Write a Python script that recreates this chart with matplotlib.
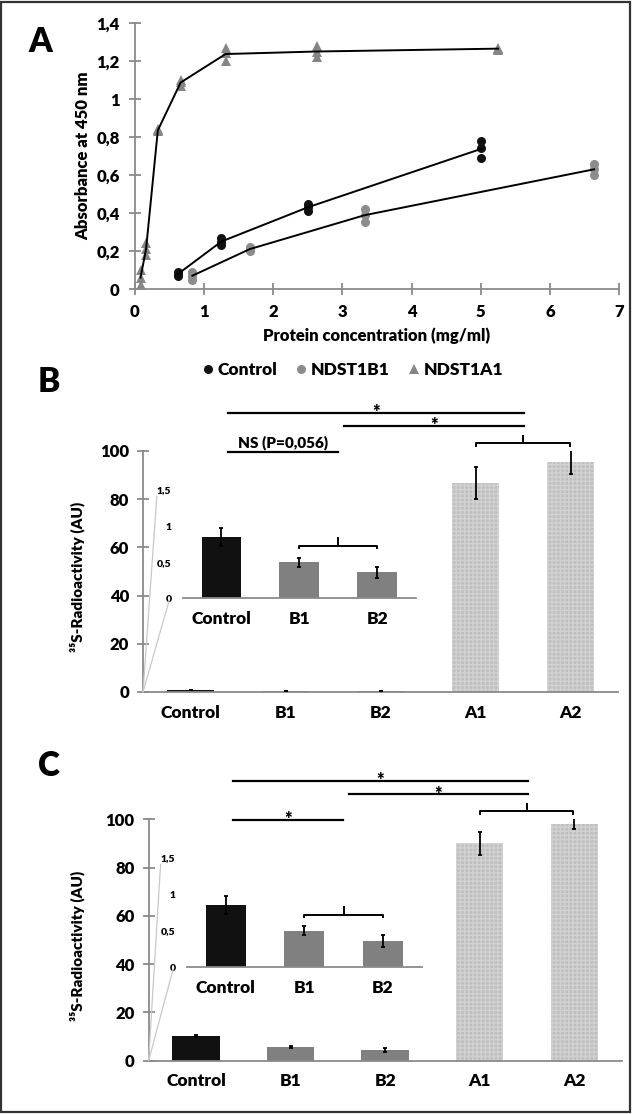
import matplotlib
matplotlib.use("Agg")
import matplotlib.pyplot as plt
import numpy as np
from matplotlib.lines import Line2D
from matplotlib.patches import ConnectionPatch, Rectangle
from matplotlib.ticker import FuncFormatter

plt.rcParams['font.family'] = ['Lato', 'DejaVu Sans']
plt.rcParams['font.weight'] = 'heavy'
plt.rcParams['hatch.linewidth'] = 1.0
WT = 'heavy'

# ---------------- Data ----------------
# Panel A: protein concentration (mg/ml) vs absorbance, 3 replicates each
ctrl_conc = [0.625, 1.25, 2.5, 5.0]
ctrl_abs = [[0.07, 0.08, 0.09], [0.23, 0.25, 0.27], [0.41, 0.43, 0.45], [0.69, 0.74, 0.78]]
b1_conc = [0.83, 1.66, 3.32, 6.64]
b1_abs = [[0.05, 0.07, 0.09], [0.20, 0.21, 0.22], [0.355, 0.39, 0.42], [0.60, 0.63, 0.66]]
a1_conc = [0.08, 0.16, 0.33, 0.66, 1.31, 2.63, 5.25]
a1_abs = [[0.02, 0.06, 0.10], [0.18, 0.21, 0.24], [0.83, 0.835, 0.84], [1.07, 1.09, 1.10],
          [1.20, 1.24, 1.27], [1.22, 1.25, 1.28], [1.26, 1.265, 1.27]]

# Panels B and C: radioactivity
categories = ['Control', 'B1', 'B2', 'A1', 'A2']
b_means = [0.85, 0.50, 0.36, 86.6, 95.5]
b_errs = [0.12, 0.06, 0.08, 6.7, 5.2]
c_means = [10.2, 5.7, 4.4, 90.0, 98.2]
c_errs = [0.3, 0.4, 0.8, 4.6, 2.2]

inset_categories = ['Control', 'B1', 'B2']
inset_means = [0.85, 0.50, 0.36]
inset_errs = [0.12, 0.06, 0.08]

W, H = 633, 1114
fig = plt.figure(figsize=(W / 100, H / 100), dpi=100)

def fx(px):
    return px / W

def fy(py):
    return 1 - py / H

comma_fmt = FuncFormatter(lambda v, p: ('%g' % round(v, 2)).replace('.', ','))
SPINE = '#8a8a8a'
BLACK = '#111111'
GRAY = '#808080'
LIGHT = '#bfbfbf'

# ---------------- Panel A ----------------
axA = fig.add_axes([fx(135), fy(289), fx(619) - fx(135), fy(23) - fy(289)])
series = [
    (ctrl_conc, ctrl_abs, 'o', BLACK, 6.5),
    (b1_conc, b1_abs, 'o', '#8c8c8c', 6.5),
    (a1_conc, a1_abs, '^', '#858585', 7.5),
]
for conc, vals, mk, col, ms in series:
    for xi, reps in zip(conc, vals):
        axA.plot([xi] * len(reps), reps, linestyle='none', marker=mk, color=col,
                 markersize=ms, markeredgewidth=0, zorder=2, clip_on=False)
    means = [np.mean(r) for r in vals]
    axA.plot(conc, means, color='black', lw=1.4, zorder=3, clip_on=False)

axA.set_xlim(0, 7)
axA.set_ylim(0, 1.4)
axA.set_xticks(range(0, 8))
axA.set_yticks(np.arange(0, 1.41, 0.2))
axA.yaxis.set_major_formatter(comma_fmt)
axA.xaxis.set_major_formatter(comma_fmt)
for s in ['top', 'right']:
    axA.spines[s].set_visible(False)
for s in ['left', 'bottom']:
    axA.spines[s].set_color(SPINE)
    axA.spines[s].set_linewidth(1.3)
axA.tick_params(axis='both', direction='inout', length=8, width=1.3, color=SPINE,
                labelsize=12, pad=7)
for lab in axA.get_xticklabels() + axA.get_yticklabels():
    lab.set_fontweight(WT)

fig.text(fx(83), fy(156), 'Absorbance at 450 nm', rotation=90, ha='center', va='center',
         fontsize=12, fontweight=WT)
fig.text(fx(377), fy(336), 'Protein concentration (mg/ml)', ha='center', va='center',
         fontsize=12, fontweight=WT)

handles = [
    Line2D([], [], linestyle='none', marker='o', color=BLACK, markersize=6.5, markeredgewidth=0),
    Line2D([], [], linestyle='none', marker='o', color='#8c8c8c', markersize=6.5, markeredgewidth=0),
    Line2D([], [], linestyle='none', marker='^', color='#858585', markersize=6.5, markeredgewidth=0),
]
leg = fig.legend(handles, ['Control', 'NDST1B1', 'NDST1A1'], loc='center',
                 bbox_to_anchor=(fx(351), fy(370)), ncol=3, frameon=False,
                 handletextpad=0.05, columnspacing=0.9, handlelength=1.0,
                 prop={'weight': WT, 'size': 12.5})

# ---------------- Bar panels ----------------
def bar_panel(rect, means, errs, inset_rect, star_mid):
    ax = fig.add_axes(rect)
    x = np.arange(len(categories))
    colors = [BLACK, GRAY, GRAY, LIGHT, LIGHT]
    for i in range(len(categories)):
        hatched = i >= 3
        ax.bar(x[i], means[i], width=0.5, color=colors[i],
               edgecolor='#d2d2d2' if hatched else colors[i],
               hatch='++++' if hatched else None, linewidth=0, zorder=2)
    ax.errorbar(x, means, yerr=errs, fmt='none', ecolor='black', elinewidth=1.3,
                capsize=1.5, capthick=1.3, zorder=3)
    ax.set_xlim(-0.5, 4.5)
    ax.set_ylim(0, 100)
    ax.set_yticks(range(0, 101, 20))
    ax.set_xticks(x)
    ax.set_xticklabels(categories)
    for s in ['top', 'right']:
        ax.spines[s].set_visible(False)
    for s in ['left', 'bottom']:
        ax.spines[s].set_color(SPINE)
        ax.spines[s].set_linewidth(1.3)
    ax.tick_params(axis='y', direction='inout', length=8, width=1.3, color=SPINE,
                   labelsize=12, pad=6)
    ax.tick_params(axis='x', length=0, labelsize=12.5, pad=9)
    for lab in ax.get_xticklabels() + ax.get_yticklabels():
        lab.set_fontweight(WT)

    # significance lines
    def hline(x1, x2, y):
        ax.plot([x1, x2], [y, y], color='black', lw=1.6, clip_on=False, zorder=4)

    def star(xc, y):
        ax.text(xc, y - 2.2, '*', ha='center', va='baseline', fontsize=13, fontweight=WT)

    hline(0.39, 3.51, 115.9)
    star(1.95, 115.9)
    hline(1.62, 3.51, 110.3)
    star(2.56, 110.3)
    hline(0.39, 1.55, 99.7)
    if star_mid == '*':
        star(0.97, 99.7)
    else:
        ax.text(0.97, 100.6, star_mid, ha='center', va='bottom', fontsize=11, fontweight=WT)
    # bracket A1-A2
    ax.plot([3.0, 3.0, 3.99, 3.99], [102.0, 103.3, 103.3, 102.0], color='black', lw=1.4,
            clip_on=False, zorder=4)
    ax.plot([3.5, 3.5], [103.3, 106.4], color='black', lw=1.4, clip_on=False, zorder=4)

    # inset
    axi = fig.add_axes(inset_rect)
    xi = np.arange(len(inset_categories))
    axi.bar(xi, inset_means, width=0.51, color=[BLACK, GRAY, GRAY], linewidth=0, zorder=2)
    axi.errorbar(xi, inset_means, yerr=inset_errs, fmt='none', ecolor='black',
                 elinewidth=1.3, capsize=1.5, capthick=1.3, zorder=3)
    axi.set_xlim(-0.5, 2.5)
    axi.set_ylim(0, 1.5)
    axi.set_yticks([0, 0.5, 1, 1.5])
    axi.yaxis.set_major_formatter(comma_fmt)
    axi.set_xticks(xi)
    axi.set_xticklabels(inset_categories)
    axi.patch.set_alpha(0)
    for s in ['top', 'right', 'left']:
        axi.spines[s].set_visible(False)
    axi.spines['bottom'].set_color(SPINE)
    axi.spines['bottom'].set_linewidth(1.3)
    axi.tick_params(axis='y', length=0, labelsize=7.5, pad=8)
    axi.tick_params(axis='x', length=0, labelsize=12.5, pad=9)
    for lab in axi.get_xticklabels() + axi.get_yticklabels():
        lab.set_fontweight(WT)
    axi.plot([1, 1, 2, 2], [0.69, 0.72, 0.72, 0.69], color='black', lw=1.4, clip_on=False)
    axi.plot([1.5, 1.5], [0.72, 0.83], color='black', lw=1.4, clip_on=False)

    # connector lines
    for pt in [(-0.11, 0.94), (-0.057, -0.02)]:
        con = ConnectionPatch(xyA=(-0.5, 0), coordsA=ax.transData, xyB=pt,
                              coordsB=axi.transAxes, color='#c8c8c8', lw=0.9)
        fig.add_artist(con)
    return ax

axB = bar_panel([fx(143), fy(692), fx(618) - fx(143), fy(451) - fy(692)], b_means, b_errs,
                [fx(182.5), fy(598.3), fx(416) - fx(182.5), fy(490) - fy(598.3)],
                'NS (P=0,056)')
axC = bar_panel([fx(148.6), fy(1060.7), fx(621.7) - fx(148.6), fy(819.3) - fy(1060.7)], c_means, c_errs,
                [fx(186.5), fy(967.3), fx(422) - fx(186.5), fy(857.7) - fy(967.3)],
                '*')

fig.text(fx(77), fy(577), '³⁵S-Radioactivity (AU)', rotation=90, ha='center', va='center',
         fontsize=11, fontweight=WT)
fig.text(fx(77), fy(946), '³⁵S-Radioactivity (AU)', rotation=90, ha='center', va='center',
         fontsize=11, fontweight=WT)

# panel letters
fig.text(fx(40), fy(42), 'A', ha='center', va='center', fontsize=24, fontweight=WT)
fig.text(fx(49), fy(382), 'B', ha='center', va='center', fontsize=24, fontweight=WT)
fig.text(fx(49), fy(766), 'C', ha='center', va='center', fontsize=24, fontweight=WT)

# outer frame
fig.add_artist(Rectangle((0.002, 0.002), 0.994, 0.996, transform=fig.transFigure,
                         fill=False, edgecolor='#333333', lw=1.6))

fig.savefig('out.png', dpi=100)
